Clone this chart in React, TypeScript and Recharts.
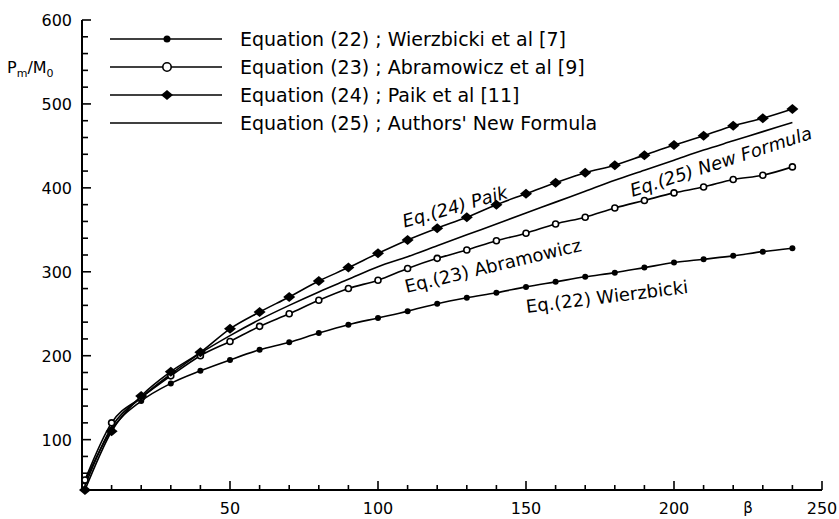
import React from "react";
import { LineChart, Line, XAxis, YAxis, Legend, Customized } from "recharts";

// beta values where the curves are sampled
const BETA = [1, 10, 20, 30, 40, 50, 60, 70, 80, 90, 100, 110, 120, 130, 140, 150, 160, 170, 180, 190, 200, 210, 220, 230, 240];

// Pm/M0
const WIERZBICKI = [50, 112, 146, 167, 182, 195, 207, 216, 227, 237, 245, 253, 262, 269, 275, 282, 288, 294, 299, 305, 311, 315, 319, 324, 328];
const ABRAMOWICZ = [52, 120, 150, 176, 200, 217, 235, 250, 266, 280, 290, 304, 316, 326, 337, 346, 357, 365, 376, 385, 394, 401, 410, 415, 425];
const PAIK = [40, 110, 152, 181, 204, 232, 252, 270, 289, 305, 322, 338, 352, 365, 380, 393, 406, 418, 427, 439, 451, 462, 474, 483, 494];
const AUTHORS = [45, 115, 150, 178, 203, 224, 243, 260, 276, 291, 306, 318, 331, 344, 357, 370, 383, 396, 409, 421, 433, 445, 456, 467, 478];

const SERIES_NAMES = [
  "Equation (22) ; Wierzbicki et al [7]",
  "Equation (23) ; Abramowicz et al [9]",
  "Equation (24) ; Paik et al [11]",
  "Equation (25) ; Authors' New Formula",
];

const X_TICKS = [0, 10, 20, 30, 40, 50, 60, 70, 80, 90, 100, 110, 120, 130, 140, 150, 160, 170, 180, 190, 200, 210, 220, 230, 240, 250];
const X_LABELS = [50, 100, 150, 200, 250];
const Y_TICKS = [40, 60, 80, 100, 120, 140, 160, 180, 200, 220, 240, 260, 280, 300, 320, 340, 360, 380, 400, 420, 440, 460, 480, 500, 520, 540, 560, 580, 600];
const Y_LABELS = [100, 200, 300, 400, 500, 600];

const FONT = "DejaVu Sans, Verdana, sans-serif";
const INK = "#000";

const data = BETA.map((b, i) => ({
  beta: b,
  wierzbicki: WIERZBICKI[i],
  abramowicz: ABRAMOWICZ[i],
  paik: PAIK[i],
  authors: AUTHORS[i],
}));

function SmallDot({ cx, cy, r = 3.5 }: any) {
  return <circle cx={cx} cy={cy} r={r} fill={INK} />;
}

function OpenDot({ cx, cy, r = 4.2 }: any) {
  return <circle cx={cx} cy={cy} r={r} fill="#fff" stroke={INK} strokeWidth={1.6} />;
}

function Diamond({ cx, cy }: any) {
  return <path d={`M${cx - 6},${cy} L${cx},${cy - 5} L${cx + 6},${cy} L${cx},${cy + 5} Z`} fill={INK} />;
}

function marker(key: string, x: number, y: number) {
  if (key === "wierzbicki") return <SmallDot cx={x} cy={y} />;
  if (key === "abramowicz") return <OpenDot cx={x} cy={y} />;
  if (key === "paik") return <Diamond cx={x} cy={y} />;
  return null;
}

// ticks point inward, only the 50s / 100s get a label
function XTick(props: any) {
  const { x, y, payload } = props;
  const axisY = y - 8;
  const major = X_LABELS.includes(payload.value);
  return (
    <g>
      <line x1={x} x2={x} y1={axisY} y2={axisY - (major ? 9 : 5)} stroke={INK} strokeWidth={1.6} />
      {major && (
        <text x={x} y={axisY + 24} textAnchor="middle" fontFamily={FONT} fontSize={16} fill={INK}>
          {payload.value}
        </text>
      )}
    </g>
  );
}

function YTick(props: any) {
  const { x, y, payload } = props;
  const axisX = x + 8;
  const major = Y_LABELS.includes(payload.value);
  return (
    <g>
      <line x1={axisX} x2={axisX + (major ? 9 : 6)} y1={y} y2={y} stroke={INK} strokeWidth={1.6} />
      {major && (
        <text x={axisX - 10} y={y + 6} textAnchor="end" fontFamily={FONT} fontSize={16} fill={INK}>
          {payload.value}
        </text>
      )}
    </g>
  );
}

function LegendBox(props: any) {
  const items = props.payload || [];
  return (
    <svg width={839} height={140} style={{ display: "block" }}>
      {items.map((it: any, i: number) => {
        const y = 39 + i * 28;
        return (
          <g key={it.value}>
            <line x1={110} x2={222} y1={y} y2={y} stroke={INK} strokeWidth={1.6} />
            {marker(it.dataKey, 167, y)}
            <text x={240} y={y + 7} fontFamily={FONT} fontSize={19} fill={INK}>
              {it.value}
            </text>
          </g>
        );
      })}
    </svg>
  );
}

function Notes() {
  const notes = [
    { t: "Eq.(24) Paik", x: 455, y: 207, a: -16, i: true },
    { t: "Eq.(23) Abramowicz", x: 493, y: 266, a: -13.5, i: false },
    { t: "Eq.(22) Wierzbicki", x: 607, y: 297, a: -7, i: false },
    { t: "Eq.(25) New Formula", x: 721, y: 162, a: -18, i: true },
  ];
  return (
    <g>
      {notes.map((n) => (
        <text
          key={n.t}
          x={n.x}
          y={n.y}
          dy={6}
          textAnchor="middle"
          transform={`rotate(${n.a} ${n.x} ${n.y})`}
          fontFamily={FONT}
          fontSize={18}
          fontStyle={n.i ? "italic" : "normal"}
          fill={INK}
        >
          {n.t}
        </text>
      ))}
      <text x={7} y={73} fontFamily={FONT} fontSize={16} fill={INK}>
        P<tspan fontSize={11} dy={4}>m</tspan>
        <tspan dy={-4}>/M</tspan>
        <tspan fontSize={11} dy={4}>0</tspan>
      </text>
      <text x={748} y={513} textAnchor="middle" fontFamily={FONT} fontSize={15} fill={INK}>
        β
      </text>
    </g>
  );
}

export default function App() {
  return (
    <div style={{ position: "absolute", left: 0, top: 0, width: 839, height: 519, background: "#fff" }}>
      <LineChart width={839} height={519} data={data} margin={{ top: 20, right: 17, bottom: 0, left: 0 }}>
        <XAxis
          type="number"
          dataKey="beta"
          domain={[0, 250]}
          ticks={X_TICKS}
          interval={0}
          height={29}
          tickSize={0}
          tickMargin={8}
          tickLine={false}
          tick={<XTick />}
          axisLine={{ stroke: INK, strokeWidth: 2 }}
        />
        <YAxis
          type="number"
          domain={[40, 600]}
          ticks={Y_TICKS}
          interval={0}
          width={82}
          tickSize={0}
          tickMargin={8}
          tickLine={false}
          tick={<YTick />}
          axisLine={{ stroke: INK, strokeWidth: 2 }}
        />
        <Legend
          layout="horizontal"
          verticalAlign="middle"
          align="center"
          content={<LegendBox />}
          wrapperStyle={{ position: "absolute", left: 0, top: 0, width: 839, height: 140 }}
        />
        <Line name={SERIES_NAMES[0]} dataKey="wierzbicki" type="monotone" stroke={INK} strokeWidth={1.6} dot={<SmallDot />} isAnimationActive={false} />
        <Line name={SERIES_NAMES[1]} dataKey="abramowicz" type="monotone" stroke={INK} strokeWidth={1.6} dot={<OpenDot />} isAnimationActive={false} />
        <Line name={SERIES_NAMES[2]} dataKey="paik" type="monotone" stroke={INK} strokeWidth={1.6} dot={<Diamond />} isAnimationActive={false} />
        <Line name={SERIES_NAMES[3]} dataKey="authors" type="monotone" stroke={INK} strokeWidth={1.6} dot={false} isAnimationActive={false} />
        <Customized component={Notes} />
      </LineChart>
    </div>
  );
}
